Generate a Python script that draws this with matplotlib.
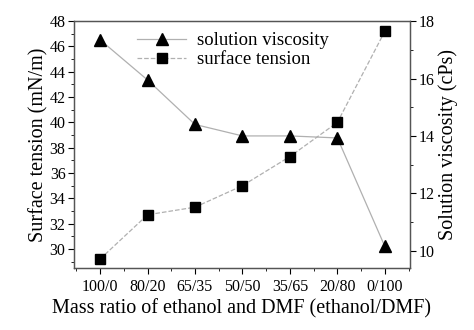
import matplotlib.pyplot as plt
from matplotlib.ticker import MultipleLocator
import numpy as np

plt.rcParams['font.family'] = ['Liberation Serif', 'DejaVu Serif']

ratios = ["100/0", "80/20", "65/35", "50/50", "35/65", "20/80", "0/100"]
surface_tension = [29.2, 32.7, 33.3, 35.0, 37.3, 40.0, 47.2]
viscosity = [17.35, 15.95, 14.4, 14.0, 14.0, 13.93, 10.15]

x = np.arange(len(ratios))
line_c = '#b0b0b0'

fig = plt.figure(figsize=(4.74, 3.3), dpi=100)
ax = fig.add_axes([0.156, 0.188, 0.709, 0.748])
ax2 = ax.twinx()

l1, = ax2.plot(x, viscosity, '-', color=line_c, lw=0.9, marker='^', ms=8,
               mfc='black', mec='black', label='solution viscosity')
l2, = ax.plot(x, surface_tension, '--', color=line_c, lw=0.9, marker='s', ms=6.5,
              mfc='black', mec='black', label='surface tension')

ax.set_xlim(-0.55, 6.53)
ax.set_ylim(28.5, 48)
ax2.set_ylim(9.4, 18)

ax.set_xticks(x)
ax.set_xticklabels(ratios)
ax.xaxis.set_minor_locator(MultipleLocator(0.5))
ax.yaxis.set_major_locator(MultipleLocator(2))
ax.yaxis.set_minor_locator(MultipleLocator(1))
ax2.yaxis.set_major_locator(MultipleLocator(2))
ax2.yaxis.set_minor_locator(MultipleLocator(1))

for a in (ax, ax2):
    a.tick_params(which='major', length=4, width=0.8, labelsize=11.5, direction='out', pad=2)
    a.tick_params(which='minor', length=2, width=0.6, direction='out')
    for s in a.spines.values():
        s.set_color('#555555')
        s.set_linewidth(0.9)
ax.tick_params(axis='x', pad=4)

ax.set_xlabel("Mass ratio of ethanol and DMF (ethanol/DMF)", fontsize=14.5, labelpad=3)
ax.set_ylabel("Surface tension (mN/m)", fontsize=14.5, labelpad=1)
ax2.set_ylabel("Solution viscosity (cPs)", fontsize=14.5, labelpad=3)

ax.legend([l1, l2], ['solution viscosity', 'surface tension'], loc='upper left',
          bbox_to_anchor=(0.155, 1.0), frameon=False, fontsize=13.5,
          handlelength=2.6, handletextpad=0.6, borderaxespad=0.2, labelspacing=0.1)

fig.savefig('out.png', dpi=100)
